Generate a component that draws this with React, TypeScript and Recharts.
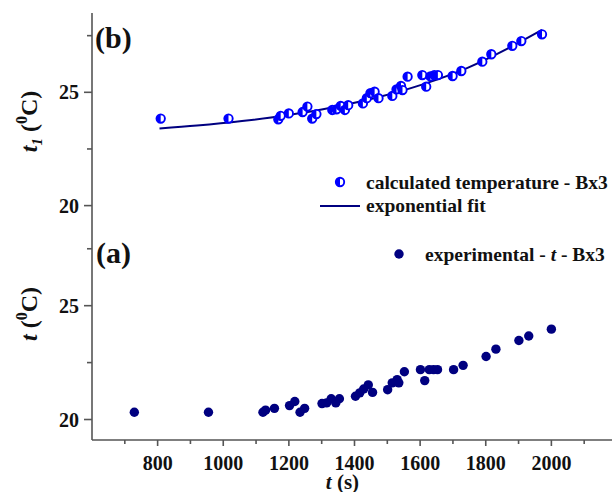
import React from 'react';
import { ComposedChart, ScatterChart, Scatter, Line, XAxis, YAxis, Legend } from 'recharts';

// measurement times (s), shared by both panels
const times = [729, 955, 1121, 1129, 1156, 1202, 1218, 1234, 1248, 1301, 1315, 1329, 1343, 1354, 1403, 1416, 1428, 1442, 1455, 1501, 1515, 1530, 1535, 1552, 1601, 1614, 1628, 1641, 1653, 1702, 1731, 1801, 1831, 1901, 1931, 2000];
// (b) calculated temperature t1
const calcTemp = [23.84, 23.84, 23.81, 23.96, 24.07, 24.13, 24.37, 23.84, 24.04, 24.22, 24.25, 24.4, 24.22, 24.43, 24.51, 24.74, 24.96, 25.03, 24.74, 24.84, 25.13, 25.28, 25.1, 25.69, 25.76, 25.25, 25.7, 25.76, 25.76, 25.72, 25.94, 26.35, 26.68, 27.05, 27.26, 27.56];
// (a) experimental temperature t
const expTemp = [20.32, 20.32, 20.32, 20.41, 20.49, 20.61, 20.79, 20.32, 20.49, 20.7, 20.73, 20.91, 20.73, 20.91, 21.02, 21.17, 21.34, 21.52, 21.19, 21.31, 21.61, 21.75, 21.61, 22.1, 22.19, 21.71, 22.19, 22.19, 22.19, 22.19, 22.38, 22.77, 23.09, 23.47, 23.67, 23.97];
// exponential fit curve
const fitTimes = [725, 850, 1000, 1150, 1300, 1450, 1600, 1750, 1900, 2000];
const fitTemp = [23.4, 23.53, 23.73, 23.99, 24.33, 24.77, 25.34, 26.07, 27.03, 27.75];

const topTicks = [750, 1000, 1250, 1500, 1750, 2000];
const bottomTicks = [700, 800, 900, 1000, 1100, 1200, 1300, 1400, 1500, 1600, 1700, 1800, 1900, 2000, 2100];
const yTicks = [20, 22.5, 25, 27.5];

const calcPoints = times.map((t, i) => ({ t, temp: calcTemp[i] }));
const expPoints = times.map((t, i) => ({ t, temp: expTemp[i] }));
const fitPoints = fitTimes.map((t, i) => ({ t, temp: fitTemp[i] }));

const SERIF = "'Liberation Serif', 'Times New Roman', Times, serif";
const AXIS = '#555';
const BLUE = '#0000ff';
const NAVY = '#000080';
const txt = { fontFamily: SERIF, fontWeight: 700 } as const;

const HalfCircle = ({ cx, cy }: any) => {
  const r = 4.2;
  return (
    <g>
      <circle cx={cx} cy={cy} r={r} fill="#fff" stroke={BLUE} strokeWidth={1.9} />
      <path d={`M${cx},${cy - r} A${r},${r} 0 0 0 ${cx},${cy + r} Z`} fill={BLUE} />
    </g>
  );
};

const Dot = ({ cx, cy }: any) => <circle cx={cx} cy={cy} r={4.7} fill={NAVY} />;

const YTick = ({ x, y, payload }: any) => {
  const major = payload.value % 5 === 0;
  return (
    <g>
      <line x1={x} x2={x - (major ? 8 : 5)} y1={y} y2={y} stroke={AXIS} strokeWidth={1.6} />
      {major && (
        <text x={x - 13} y={y + 7} textAnchor="end" style={txt} fontSize={20} fill="#111">
          {payload.value}
        </text>
      )}
    </g>
  );
};

const InnerTick = ({ x, y }: any) => <line x1={x} x2={x} y1={y} y2={y - 8} stroke={AXIS} strokeWidth={1.6} />;

const XTick = ({ x, y, payload }: any) => {
  const major = payload.value % 200 === 0;
  return (
    <g>
      <line x1={x} x2={x} y1={y} y2={y + (major ? 6 : 4)} stroke={AXIS} strokeWidth={1.6} />
      {major && (
        <text x={x} y={y + 30} textAnchor="middle" style={txt} fontSize={20} fill="#111">
          {payload.value}
        </text>
      )}
    </g>
  );
};

const TopYTitle = ({ viewBox }: any) => {
  const cy = viewBox.y + viewBox.height / 2 + 2;
  const bx = 37;
  return (
    <g style={txt} fill="#111">
      <text x={bx} y={cy} fontSize={24} textAnchor="middle" transform={`rotate(-90 ${bx} ${cy})`}>
        <tspan fontStyle="italic">t</tspan>
        <tspan fontStyle="italic" fontSize={15} dy={5}>1</tspan>
        <tspan dy={-5}> (</tspan>
        <tspan fontSize={16} dy={-10}>0</tspan>
        <tspan dy={10}>C)</tspan>
      </text>
      <text x={95} y={48} fontSize={30}>(b)</text>
    </g>
  );
};

const BottomYTitle = ({ viewBox }: any) => {
  const cy = viewBox.y + viewBox.height / 2 - 19;
  const bx = 37;
  return (
    <g style={txt} fill="#111">
      <text x={bx} y={cy} fontSize={24} textAnchor="middle" transform={`rotate(-90 ${bx} ${cy})`}>
        <tspan fontStyle="italic">t</tspan>
        <tspan> (</tspan>
        <tspan fontSize={16} dy={-10}>0</tspan>
        <tspan dy={10}>C)</tspan>
      </text>
      <text x={96} y={47} fontSize={30}>(a)</text>
    </g>
  );
};

const XTitle = ({ viewBox }: any) => (
  <text x={viewBox.x + viewBox.width / 2 - 12} y={viewBox.y + 49} textAnchor="middle" style={txt} fontSize={21} fill="#111">
    <tspan fontStyle="italic">t</tspan>
    <tspan> (s)</tspan>
  </text>
);

const renderName = (name: string) => {
  const parts = name.split(' t ');
  if (parts.length < 2) return name;
  return (
    <>
      {parts[0]} <i>t</i> {parts[1]}
    </>
  );
};

const LegendRows = ({ payload }: any) => {
  const items = [...(payload || [])].sort((a: any, b: any) => (a.type === 'line' ? 1 : 0) - (b.type === 'line' ? 1 : 0));
  return (
    <div style={{ ...txt, fontSize: 19.5, lineHeight: '23.3px', color: '#111' }}>
      {items.map((it: any) => (
        <div key={it.value} style={{ display: 'flex', alignItems: 'center', whiteSpace: 'nowrap', height: 23.3 }}>
          <svg width={44} height={23} style={{ flex: 'none', marginRight: 4 }}>
            {it.type === 'line' ? (
              <line x1={2} x2={42} y1={12} y2={12} stroke={NAVY} strokeWidth={2} />
            ) : it.color === BLUE ? (
              <HalfCircle cx={22} cy={11} />
            ) : (
              <Dot cx={22} cy={11} />
            )}
          </svg>
          <span style={txt}>{renderName(it.value)}</span>
        </div>
      ))}
    </div>
  );
};

export default function App() {
  return (
    <div style={{ position: 'absolute', left: 0, top: 0, width: 612, height: 493, overflow: 'hidden', background: '#fff' }}>
      <div style={{ position: 'absolute', left: 0, top: 0 }}>
        <ComposedChart width={620} height={232} margin={{ top: 13, right: 3, bottom: 6, left: 0 }}>
          <XAxis
            dataKey="t"
            type="number"
            domain={[500, 2250]}
            ticks={topTicks}
            allowDataOverflow
            interval={0}
            height={0}
            tickSize={0}
            tickMargin={0}
            tickLine={false}
            tick={<InnerTick />}
            axisLine={{ stroke: AXIS, strokeWidth: 1.6 }}
          />
          <XAxis
            xAxisId="frame"
            orientation="top"
            type="number"
            domain={[500, 2250]}
            height={0}
            tick={false}
            tickLine={false}
            axisLine={{ stroke: AXIS, strokeWidth: 1.6 }}
          />
          <YAxis
            dataKey="temp"
            type="number"
            domain={[19.1, 28.5]}
            ticks={yTicks}
            allowDataOverflow
            interval={0}
            width={92}
            tickSize={0}
            tickMargin={0}
            tickLine={false}
            tick={<YTick />}
            axisLine={{ stroke: AXIS, strokeWidth: 1.6 }}
            label={{ content: (p: any) => <TopYTitle {...p} /> }}
          />
          <Line
            data={fitPoints}
            dataKey="temp"
            name="exponential fit"
            type="monotone"
            stroke={NAVY}
            strokeWidth={2}
            dot={false}
            legendType="line"
            isAnimationActive={false}
          />
          <Scatter
            data={calcPoints}
            dataKey="temp"
            name="calculated temperature - Bx3"
            fill={BLUE}
            shape={(p: any) => <HalfCircle {...p} />}
            legendType="circle"
            isAnimationActive={false}
          />
          <Legend
            layout="vertical"
            align="center"
            verticalAlign="middle"
            wrapperStyle={{ left: 318, top: 171, width: 300, height: 48 }}
            content={(p: any) => <LegendRows {...p} />}
          />
        </ComposedChart>
      </div>
      <div style={{ position: 'absolute', left: 0, top: 216 }}>
        <ScatterChart width={620} height={276} margin={{ top: 10, right: 3, bottom: 0, left: 0 }}>
          <XAxis
            dataKey="t"
            type="number"
            domain={[600, 2200]}
            ticks={bottomTicks}
            allowDataOverflow
            interval={0}
            height={52}
            tickSize={0}
            tickMargin={0}
            tickLine={false}
            tick={<XTick />}
            axisLine={{ stroke: AXIS, strokeWidth: 1.6 }}
            label={{ content: (p: any) => <XTitle {...p} /> }}
          />
          <YAxis
            dataKey="temp"
            type="number"
            domain={[19.1, 28.5]}
            ticks={yTicks}
            allowDataOverflow
            interval={0}
            width={92}
            tickSize={0}
            tickMargin={0}
            tickLine={false}
            tick={<YTick />}
            axisLine={{ stroke: AXIS, strokeWidth: 1.6 }}
            label={{ content: (p: any) => <BottomYTitle {...p} /> }}
          />
          <Scatter
            data={expPoints}
            name="experimental - t - Bx3"
            fill={NAVY}
            shape={(p: any) => <Dot {...p} />}
            legendType="circle"
            isAnimationActive={false}
          />
          <Legend
            layout="vertical"
            align="center"
            verticalAlign="middle"
            wrapperStyle={{ left: 377, top: 27, width: 240, height: 24 }}
            content={(p: any) => <LegendRows {...p} />}
          />
        </ScatterChart>
      </div>
    </div>
  );
}
